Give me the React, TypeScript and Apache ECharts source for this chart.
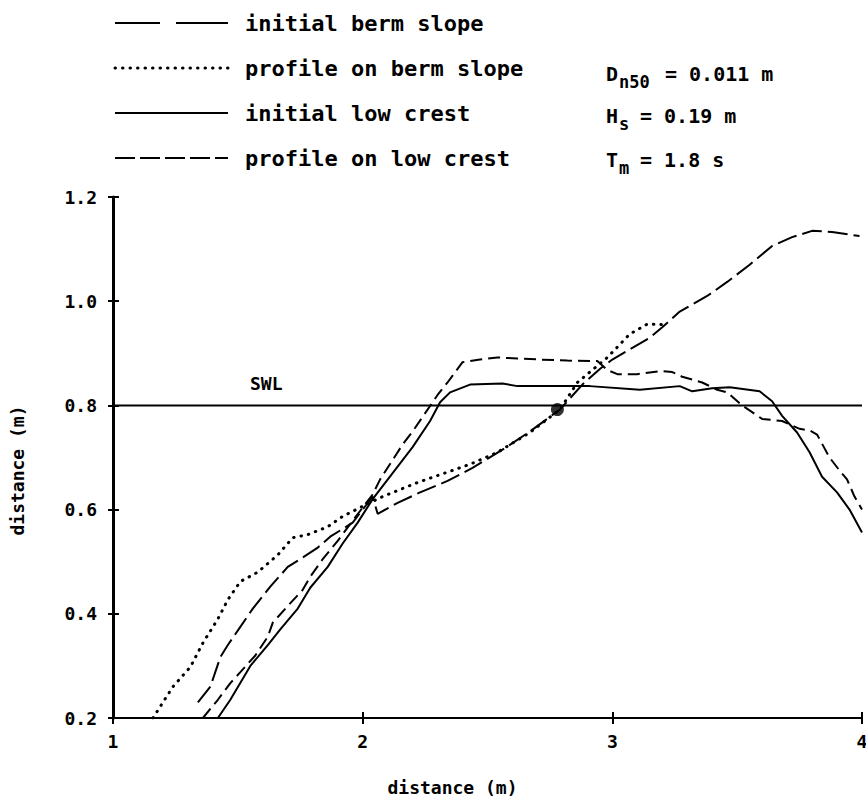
import React, { useEffect, useRef } from "react";
import * as echarts from "echarts";

const FONT = "DejaVu Sans Mono";

const xTicks = { min: 1, max: 4, interval: 1 };
const yTicks = { min: 0.2, max: 1.2, interval: 0.2 };
const swlLevel = 0.8;
const swlLabel = "SWL";
const seriesNames = [
  "initial berm slope",
  "profile on berm slope",
  "initial low crest",
  "profile on low crest",
];
const paramMain = ["D", "H", "T"];
const paramSub = ["n50", "s", "m"];
const paramValue = ["= 0.011 m", "= 0.19 m", "= 1.8 s"];

const initialBermSlope: [number, number][] = [
  [1.34, 0.23], [1.39, 0.26], [1.43, 0.317], [1.46, 0.34], [1.51, 0.375],
  [1.56, 0.41], [1.63, 0.452], [1.7, 0.49], [1.76, 0.508], [1.82, 0.527],
  [1.87, 0.548], [1.96, 0.575], [2.0, 0.6], [2.04, 0.625], [2.06, 0.592],
  [2.14, 0.613], [2.23, 0.633], [2.34, 0.655], [2.44, 0.68], [2.56, 0.715],
  [2.67, 0.75], [2.79, 0.792], [2.88, 0.84], [2.95, 0.87], [3.0, 0.888],
  [3.15, 0.93], [3.2, 0.95], [3.27, 0.98], [3.38, 1.01], [3.46, 1.037],
  [3.55, 1.07], [3.64, 1.106], [3.72, 1.123], [3.8, 1.135], [3.88, 1.133],
  [3.99, 1.125],
];

const profileBermSlope: [number, number][] = [
  [1.16, 0.2], [1.24, 0.26], [1.31, 0.298], [1.36, 0.344], [1.42, 0.39],
  [1.46, 0.427], [1.51, 0.462], [1.58, 0.48], [1.66, 0.513], [1.72, 0.546],
  [1.78, 0.552], [1.86, 0.567], [1.92, 0.587], [1.99, 0.604], [2.08, 0.625],
  [2.22, 0.652], [2.43, 0.687], [2.54, 0.71], [2.67, 0.748], [2.79, 0.792],
  [2.86, 0.844], [2.98, 0.892], [3.07, 0.937], [3.14, 0.956], [3.2, 0.955],
];

const initialLowCrest: [number, number][] = [
  [1.42, 0.2], [1.47, 0.235], [1.55, 0.3], [1.62, 0.34], [1.67, 0.37],
  [1.74, 0.41], [1.79, 0.45], [1.86, 0.49], [1.92, 0.535], [1.98, 0.575],
  [2.04, 0.62], [2.12, 0.67], [2.2, 0.72], [2.27, 0.77], [2.31, 0.806],
  [2.35, 0.825], [2.43, 0.84], [2.56, 0.842], [2.62, 0.837], [2.77, 0.837],
  [2.91, 0.837], [3.11, 0.83], [3.27, 0.837], [3.32, 0.827], [3.4, 0.833],
  [3.47, 0.835], [3.59, 0.827], [3.64, 0.808], [3.68, 0.78], [3.74, 0.748],
  [3.79, 0.71], [3.84, 0.663], [3.9, 0.633], [3.95, 0.6], [4.0, 0.556],
];

const profileLowCrest: [number, number][] = [
  [1.36, 0.2], [1.42, 0.235], [1.47, 0.267], [1.51, 0.288], [1.57, 0.32],
  [1.62, 0.356], [1.64, 0.383], [1.7, 0.415], [1.76, 0.446], [1.79, 0.471],
  [1.84, 0.505], [1.9, 0.54], [1.97, 0.585], [2.04, 0.629], [2.07, 0.658],
  [2.16, 0.725], [2.2, 0.75], [2.3, 0.82], [2.34, 0.844], [2.4, 0.883],
  [2.47, 0.888], [2.54, 0.892], [2.62, 0.89], [2.71, 0.888], [2.82, 0.886],
  [2.94, 0.885], [2.98, 0.868], [3.02, 0.86], [3.1, 0.86], [3.2, 0.866],
  [3.24, 0.864], [3.28, 0.855], [3.36, 0.844], [3.42, 0.83], [3.46, 0.825],
  [3.52, 0.8], [3.56, 0.787], [3.6, 0.774], [3.68, 0.77], [3.75, 0.755],
  [3.79, 0.752], [3.82, 0.744], [3.87, 0.7], [3.91, 0.675], [3.94, 0.658],
  [3.97, 0.625], [4.0, 0.6],
];

const swlPoint: [number, number][] = [[2.78, 0.792]];

export default function App() {
  const ref = useRef<HTMLDivElement>(null);
  useEffect(() => {
    if (!ref.current) return;
    const chart = echarts.init(ref.current, null, { renderer: "svg" });
    const black = "#000";
    const txt = (size: number) => ({
      fontFamily: FONT,
      fontSize: size,
      fontWeight: "bold",
      fill: black,
    });
    const legendRows = [23, 68, 113, 158];
    const legendLines: any[] = [
      { type: "line", shape: { x1: 115, y1: legendRows[0], x2: 160, y2: legendRows[0] }, style: { stroke: black, lineWidth: 2 } },
      { type: "line", shape: { x1: 176, y1: legendRows[0], x2: 228, y2: legendRows[0] }, style: { stroke: black, lineWidth: 2 } },
      { type: "line", shape: { x1: 115, y1: legendRows[1], x2: 228, y2: legendRows[1] }, style: { stroke: black, lineWidth: 3, lineDash: [0.5, 7], lineCap: "round" } },
      { type: "line", shape: { x1: 115, y1: legendRows[2], x2: 228, y2: legendRows[2] }, style: { stroke: black, lineWidth: 2 } },
      { type: "line", shape: { x1: 115, y1: legendRows[3], x2: 228, y2: legendRows[3] }, style: { stroke: black, lineWidth: 2, lineDash: [20, 5] } },
    ];
    const legendTexts = seriesNames.map((n, i) => ({
      type: "text",
      x: 245,
      y: legendRows[i],
      style: { ...txt(22), text: n, textVerticalAlign: "middle", verticalAlign: "middle" },
    }));
    const paramRows = [74, 116, 160];
    const params: any[] = [];
    paramMain.forEach((m, i) => {
      params.push({ type: "text", x: 606, y: paramRows[i], style: { ...txt(20), text: m, verticalAlign: "middle" } });
      params.push({ type: "text", x: 619, y: paramRows[i] + 8, style: { ...txt(17), text: paramSub[i], verticalAlign: "middle" } });
      params.push({ type: "text", x: i === 0 ? 665 : 640, y: paramRows[i], style: { ...txt(20), text: paramValue[i], verticalAlign: "middle" } });
    });

    const lineSeries = (name: string, data: [number, number][], lineStyle: any) => ({
      name,
      type: "line",
      data,
      symbol: "none",
      smooth: false,
      lineStyle: { color: black, width: 2, ...lineStyle },
      silent: true,
    });

    chart.setOption({
      animation: false,
      backgroundColor: "#fff",
      grid: { left: 113, top: 197, width: 749, height: 521, outerBoundsMode: "none" },
      xAxis: [
        {
          type: "value",
          position: "bottom",
          ...xTicks,
          axisLine: { show: true, onZero: false, lineStyle: { color: black, width: 2 } },
          axisTick: { show: true, length: 6, lineStyle: { color: black, width: 2 } },
          axisLabel: { color: black, fontFamily: FONT, fontSize: 18, fontWeight: "bold", margin: 14 },
          splitLine: { show: false },
          name: "distance (m)",
          nameLocation: "middle",
          nameGap: 60,
          nameTextStyle: { color: black, fontFamily: FONT, fontSize: 18, fontWeight: "bold", padding: [0, 70, 0, 0] },
        },
        {
          type: "value",
          position: "bottom",
          ...xTicks,
          axisLine: { show: false },
          axisTick: { show: true, inside: true, length: 6, lineStyle: { color: black, width: 2 } },
          axisLabel: { show: false },
          splitLine: { show: false },
        },
      ],
      yAxis: [
        {
          type: "value",
          position: "left",
          ...yTicks,
          axisLine: { show: true, onZero: false, lineStyle: { color: black, width: 3 } },
          axisTick: { show: true, length: 5, lineStyle: { color: black, width: 2 } },
          axisLabel: {
            color: black, fontFamily: FONT, fontSize: 18, fontWeight: "bold", margin: 16,
            formatter: (v: number) => v.toFixed(1),
          },
          splitLine: { show: false },
          name: "distance (m)",
          nameLocation: "middle",
          nameGap: 87,
          nameTextStyle: { color: black, fontFamily: FONT, fontSize: 18, fontWeight: "bold", padding: [0, 26, 0, 0] },
        },
        {
          type: "value",
          position: "left",
          ...yTicks,
          axisLine: { show: false },
          axisTick: { show: true, inside: true, length: 6, lineStyle: { color: black, width: 2 } },
          axisLabel: { show: false },
          splitLine: { show: false },
        },
      ],
      series: [
        {
          name: swlLabel,
          type: "line",
          data: [[xTicks.min, swlLevel], [xTicks.max, swlLevel]],
          symbol: "none",
          lineStyle: { color: black, width: 2 },
          silent: true,
          endLabel: { show: false },
        },
        lineSeries(seriesNames[0], initialBermSlope, { type: [20, 6] }),
        lineSeries(seriesNames[1], profileBermSlope, { type: [0.5, 7], width: 3, cap: "round" }),
        lineSeries(seriesNames[2], initialLowCrest, { type: "solid" }),
        lineSeries(seriesNames[3], profileLowCrest, { type: [12, 6] }),
        {
          name: "SWL point",
          type: "scatter",
          data: swlPoint,
          symbol: "circle",
          symbolSize: 13,
          itemStyle: { color: black },
          silent: true,
        },
      ],
      graphic: [
        ...legendLines,
        ...legendTexts,
        ...params,
        { type: "text", x: 250, y: 383, style: { ...txt(18), text: swlLabel, verticalAlign: "middle" } },
      ],
    });
    return () => chart.dispose();
  }, []);
  return (
    <div
      ref={ref}
      style={{ position: "fixed", left: 0, top: 0, width: 866, height: 803, background: "#fff" }}
    />
  );
}
